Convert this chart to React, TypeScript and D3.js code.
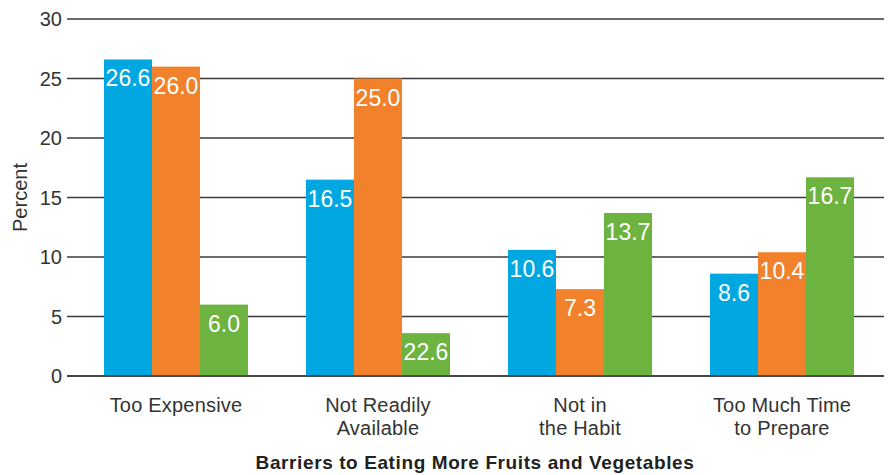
import React from "react";
import * as d3 from "d3";

const categories = [
  ["Too Expensive"],
  ["Not Readily", "Available"],
  ["Not in", "the Habit"],
  ["Too Much Time", "to Prepare"],
];
const seriesKeys = ["s1", "s2", "s3"];
const seriesColors = ["#00A7E1", "#F1812A", "#6DB33F"];
const values = [
  [26.6, 26.0, 6.0],
  [16.5, 25.0, 3.6],
  [10.6, 7.3, 13.7],
  [8.6, 10.4, 16.7],
];
const valueLabels = [
  ["26.6", "26.0", "6.0"],
  ["16.5", "25.0", "22.6"],
  ["10.6", "7.3", "13.7"],
  ["8.6", "10.4", "16.7"],
];
const yTicks = [0, 5, 10, 15, 20, 25, 30];
const yTitle = "Percent";
const xTitle = "Barriers to Eating More Fruits and Vegetables";

const W = 890;
const H = 475;
const font = "'Liberation Sans', Arial, Helvetica, sans-serif";

export default function App() {
  const y = d3.scaleLinear().domain([0, 30]).range([376, 19]);
  const x0 = d3
    .scaleBand<number>()
    .domain(categories.map((_, i) => i))
    .range([75, 883])
    .paddingInner(0.287)
    .paddingOuter(0.1435);
  const x1 = d3
    .scaleBand<string>()
    .domain(seriesKeys)
    .range([0, x0.bandwidth()]);

  return (
    <svg
      width={W}
      height={H}
      style={{ position: "absolute", left: 0, top: 0, background: "#fff" }}
      fontFamily={font}
    >
      {yTicks.map((t) => (
        <g key={t}>
          <line x1={67} x2={884} y1={y(t)} y2={y(t)} stroke="#3a3a3a" strokeWidth={1.3} />
          <text x={62} y={y(t) + 7} textAnchor="end" fontSize={20} fill="#333">
            {t}
          </text>
        </g>
      ))}
      <text
        transform={`translate(27,${y(15)}) rotate(-90)`}
        textAnchor="middle"
        fontSize={20}
        fill="#333"
      >
        {yTitle}
      </text>
      {values.map((row, ci) => (
        <g key={ci} transform={`translate(${x0(ci)},0)`}>
          {row.map((v, si) => {
            const bx = x1(seriesKeys[si])!;
            const bw = x1.bandwidth();
            return (
              <g key={si}>
                <rect x={bx} y={y(v)} width={bw} height={y(0) - y(v)} fill={seriesColors[si]} />
                <text
                  x={bx + bw / 2}
                  y={y(v) + 27}
                  textAnchor="middle"
                  fontSize={23}
                  fill="#fff"
                >
                  {valueLabels[ci][si]}
                </text>
              </g>
            );
          })}
          {categories[ci].map((line, li) => (
            <text
              key={li}
              x={x0.bandwidth() / 2}
              y={412 + li * 23}
              textAnchor="middle"
              fontSize={20}
              letterSpacing={0.2}
              fill="#333"
            >
              {line}
            </text>
          ))}
        </g>
      ))}
      <line x1={67} x2={884} y1={y(0)} y2={y(0)} stroke="#3a3a3a" strokeWidth={1.5} />
      <text
        x={475}
        y={469}
        textAnchor="middle"
        fontSize={19}
        fontWeight="bold"
        letterSpacing={0.6}
        fill="#222"
      >
        {xTitle}
      </text>
    </svg>
  );
}
